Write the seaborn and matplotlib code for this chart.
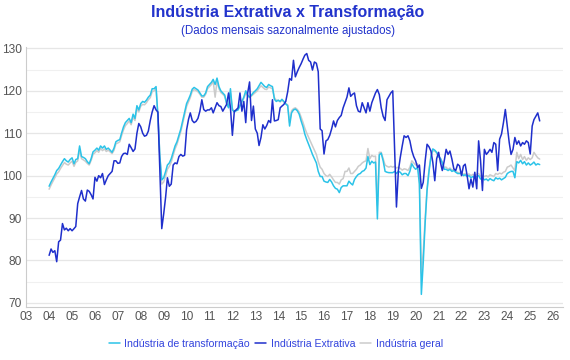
import pandas as pd
import numpy as np
import matplotlib
matplotlib.use('Agg')
import matplotlib.pyplot as plt
import matplotlib.dates as mdates
from matplotlib.ticker import MultipleLocator
import seaborn as sns

# Monthly seasonally adjusted indexes, Jan 2004 - Jun 2025
transformacao = [
    97.5, 98.5, 99.3, 100.2, 101.2, 101.7, 102.5, 103.3, 104.0, 103.5, 103.2, 103.8,  # 2004
    104.2, 102.8, 103.8, 104.0, 107.0, 104.5, 104.3, 104.0, 103.3, 102.8, 104.0, 105.6,  # 2005
    106.0, 106.5, 106.0, 107.0, 106.5, 107.0, 106.2, 106.5, 106.0, 105.5, 106.5, 108.0,  # 2006
    108.3, 108.5, 110.0, 111.5, 112.5, 113.0, 113.5, 112.5, 114.5, 113.5, 116.5, 115.5,  # 2007
    117.0, 117.5, 117.3, 117.8, 118.5, 119.0, 120.5, 120.5, 121.0, 114.0, 104.5, 99.0,  # 2008
    99.5, 101.0, 102.5, 103.0, 104.0, 105.5, 107.0, 108.0, 109.5, 111.0, 113.0, 115.0,  # 2009
    117.0, 118.0, 119.0, 120.4, 120.8, 120.5, 120.2, 119.5, 118.8, 118.8, 119.5, 121.0,  # 2010
    121.5, 122.0, 122.7, 121.5, 123.0, 121.0, 120.0, 119.5, 119.0, 117.0, 116.0, 120.5,  # 2011
    115.5, 115.0, 115.3, 115.5, 116.5, 117.5, 118.5, 120.0, 119.0, 118.5, 119.0, 119.6,  # 2012
    120.0, 120.5, 121.2, 122.0, 121.5, 121.0, 120.8, 121.5, 121.2, 121.0, 118.0, 117.5,  # 2013
    117.8, 117.5, 118.0, 117.5, 116.9, 116.5, 111.7, 114.8, 115.5, 115.7, 115.3, 114.5,  # 2014
    112.9, 111.5, 109.8, 108.5, 107.4, 106.2, 105.0, 104.0, 103.0, 101.0, 99.8, 99.8,  # 2015
    98.7, 98.5, 98.4, 99.1, 98.5, 97.6, 97.0, 96.8, 96.0, 97.2, 97.6, 97.6,  # 2016
    97.6, 98.7, 98.2, 97.8, 99.1, 99.8, 100.3, 100.5, 101.0, 101.2, 101.8, 104.5,  # 2017
    102.6, 103.4, 103.0, 103.2, 89.8, 104.9, 105.3, 103.5, 101.0, 100.8, 100.7, 100.7,  # 2018
    100.7, 101.0, 100.5, 101.0, 100.8, 100.2, 100.5, 100.5, 100.0, 101.0, 102.8, 102.0,  # 2019
    101.5, 101.9, 98.0, 72.0, 79.5, 89.0, 96.5, 101.0, 104.5, 106.3, 106.0, 105.5,  # 2020
    104.5, 104.0, 103.0, 101.5, 101.5, 101.2, 101.5, 101.0, 101.2, 100.8, 100.5, 100.5,  # 2021
    100.5, 100.0, 100.2, 99.8, 100.0, 99.5, 99.8, 99.5, 99.8, 100.0, 99.2, 99.5,  # 2022
    99.0, 99.2, 98.8, 99.3, 99.0, 98.8, 99.5, 99.2, 99.4, 99.0, 99.3, 99.6,  # 2023
    100.5, 100.8, 101.0, 101.0, 99.5, 103.3, 103.0, 103.6, 102.8, 103.3, 102.5, 103.0,  # 2024
    102.5, 102.8, 103.2, 102.5, 102.8, 102.6,  # 2025
]

extrativa = [
    81.2, 82.7, 81.9, 82.3, 79.7, 84.4, 84.8, 88.7, 87.2, 87.6, 87.0, 87.5,
    87.0, 87.5, 88.0, 93.4, 95.0, 96.5, 94.5, 94.0, 96.6, 96.3, 95.5, 94.5,
    99.6, 98.7, 100.0, 99.5, 100.5, 97.9, 99.0, 100.0, 100.5, 101.0, 103.5, 103.5,
    102.9, 103.0, 104.5, 105.2, 105.3, 105.0, 107.4, 106.6, 105.7, 106.3, 110.0, 112.3,
    111.5, 110.0, 109.3, 109.5, 110.5, 113.0, 115.0, 116.5, 115.5, 115.0, 101.0, 87.5,
    91.0, 95.0, 99.5, 97.5, 98.0, 102.5, 103.0, 102.8, 104.5, 105.0, 104.6, 104.8,
    110.8, 113.3, 114.8, 113.0, 112.5, 112.8, 113.5, 115.2, 117.9, 115.6, 115.2, 115.5,
    115.5, 116.0, 114.8, 116.0, 117.2, 116.5, 116.3, 115.2, 116.0, 116.8, 119.5, 116.0,
    109.5, 115.2, 115.5, 116.0, 119.5, 115.2, 117.5, 112.5, 119.5, 122.1, 113.0, 116.4,
    111.0, 110.0, 107.1, 109.0, 112.0, 111.0, 111.8, 113.0, 112.5, 117.9, 112.9, 113.0,
    113.2, 116.0, 116.4, 116.8, 117.5, 119.8, 122.9, 122.5, 127.2, 123.3, 124.5, 125.5,
    126.4, 127.5, 128.4, 128.8, 127.2, 126.8, 124.9, 126.8, 126.5, 124.5, 111.0, 110.6,
    105.1, 108.2, 108.5, 109.5, 111.0, 112.9, 111.5, 113.0, 113.7, 114.2, 116.0, 117.2,
    118.5, 120.7, 118.7, 119.2, 119.5, 116.5, 115.2, 115.0, 117.2, 116.0, 114.8, 117.2,
    115.2, 117.2, 118.3, 119.5, 120.3, 119.1, 116.0, 114.0, 113.0, 117.9, 118.7, 119.5,
    120.0, 105.9, 92.6, 101.2, 104.3, 107.0, 109.4, 109.0, 109.4, 108.2, 105.9, 104.5,
    103.5, 101.9, 102.5, 97.0, 98.4, 103.5, 107.4, 106.8, 105.8, 103.1, 98.8, 104.0,
    105.5, 103.0, 101.2, 103.5, 106.2, 105.0, 105.8, 103.9, 101.6, 101.2, 102.7, 102.3,
    100.0, 102.3, 102.7, 100.0, 96.9, 99.2, 97.3, 100.8, 96.9, 108.2, 103.5, 96.5,
    106.2, 105.0, 105.5, 106.2, 105.5, 107.8, 107.4, 101.2, 108.6, 109.8, 112.5, 115.6,
    111.7, 107.8, 105.0, 106.2, 109.0, 107.4, 108.2, 107.0, 107.8, 107.4, 108.2, 107.8,
    105.1, 111.7, 113.2, 114.0, 114.8, 112.9,
]

geral = [
    96.8, 97.8, 98.6, 99.5, 100.4, 100.9, 101.7, 102.4, 103.1, 102.7, 102.5, 103.0,
    103.4, 102.2, 103.1, 103.5, 106.0, 104.0, 103.7, 103.4, 102.9, 102.5, 103.6, 105.0,
    105.4, 105.9, 105.5, 106.4, 105.9, 106.3, 105.7, 106.0, 105.6, 105.2, 106.0, 107.5,
    107.7, 108.0, 109.4, 110.8, 111.8, 112.3, 112.9, 112.0, 113.8, 113.0, 115.8, 115.0,
    116.4, 116.8, 116.7, 117.2, 117.9, 118.4, 119.8, 120.0, 120.5, 114.0, 104.5, 98.0,
    98.5, 100.0, 101.5, 102.2, 103.2, 104.8, 106.3, 107.4, 108.9, 110.4, 112.4, 114.3,
    116.3, 117.4, 118.4, 119.9, 120.3, 120.1, 119.8, 119.2, 118.5, 118.5, 119.2, 120.5,
    121.0, 121.5, 122.2, 118.5, 122.3, 120.5, 119.6, 119.2, 118.7, 117.0, 116.2, 119.5,
    115.8, 115.2, 115.5, 115.8, 116.6, 117.4, 118.2, 119.4, 118.8, 118.4, 118.8, 119.2,
    119.6, 120.0, 120.6, 121.2, 120.8, 120.4, 120.3, 120.9, 120.7, 120.5, 118.4, 117.8,
    117.7, 117.4, 117.8, 117.4, 117.0, 116.7, 112.5, 115.3, 115.8, 116.0, 115.6, 115.0,
    113.8, 112.5, 111.2, 110.0, 109.0, 108.0, 107.0, 106.0, 105.0, 103.3, 102.0, 101.5,
    100.5, 100.0, 99.8, 100.3, 99.7, 99.0, 98.4, 98.4, 98.0, 99.0, 99.3, 101.0,
    101.0, 101.8, 100.5, 100.5, 101.0, 101.5, 102.2, 102.5, 103.0, 103.3, 103.5, 106.4,
    104.0, 104.8, 104.5, 104.6, 93.0, 105.5, 105.5, 104.0, 102.5, 102.2, 102.0, 102.2,
    102.0, 102.2, 101.8, 102.0, 101.7, 101.3, 101.6, 101.5, 101.2, 102.0, 103.5, 103.0,
    102.5, 102.8, 99.0, 77.0, 82.0, 90.0, 97.0, 101.5, 104.5, 105.8, 105.8, 105.3,
    104.5, 104.0, 103.2, 102.0, 102.0, 101.5, 101.8, 101.3, 101.5, 101.0, 100.8, 100.6,
    100.7, 100.3, 100.5, 100.2, 100.4, 100.0, 100.3, 100.0, 100.3, 100.5, 99.8, 100.0,
    99.8, 100.0, 99.7, 100.2, 100.0, 99.8, 100.5, 100.3, 100.6, 100.4, 100.8, 101.0,
    102.0, 102.2, 102.5, 101.8, 101.2, 105.5, 104.0, 105.0, 103.8, 104.5, 103.6, 104.2,
    103.8, 104.2, 105.5, 104.8, 104.2, 103.9,
]

series_names = ['Indústria de transformação', 'Indústria Extrativa', 'Indústria geral']
series_colors = ['#2bc3e8', '#1f2fcc', '#cbcbcb']

dates = pd.date_range('2004-01-01', periods=len(extrativa), freq='MS')
df = pd.concat([
    pd.DataFrame({'data': dates, 'valor': transformacao, 'serie': series_names[0]}),
    pd.DataFrame({'data': dates, 'valor': extrativa, 'serie': series_names[1]}),
    pd.DataFrame({'data': dates, 'valor': geral, 'serie': series_names[2]}),
])

sns.set_style('white')
plt.rcParams['font.family'] = ['Liberation Sans', 'DejaVu Sans']

fig = plt.figure(figsize=(5.7, 3.6), dpi=100)
ax = fig.add_axes([0.046, 0.147, 0.942, 0.722])

# grey drawn first so the two blues sit on top
for name, color, z in [(series_names[2], series_colors[2], 2),
                       (series_names[0], series_colors[0], 3),
                       (series_names[1], series_colors[1], 4)]:
    sns.lineplot(data=df[df['serie'] == name], x='data', y='valor', color=color,
                 linewidth=1.1, ax=ax, zorder=z, label=name)

ax.set_ylim(69, 130.3)
ax.set_xlim(pd.Timestamp('2003-01-01'), pd.Timestamp('2026-06-10'))
ax.yaxis.set_major_locator(MultipleLocator(10))
ax.yaxis.set_minor_locator(MultipleLocator(5))
ax.xaxis.set_major_locator(mdates.YearLocator())
ax.xaxis.set_major_formatter(mdates.DateFormatter('%y'))

ax.grid(axis='y', which='major', color='#e6e6e6', linewidth=0.9)
ax.grid(axis='y', which='minor', color='#f0f0f0', linewidth=0.8)
ax.set_axisbelow(True)
for s in ['top', 'right']:
    ax.spines[s].set_visible(False)
for s in ['left', 'bottom']:
    ax.spines[s].set_color('#cccccc')
    ax.spines[s].set_linewidth(0.8)
ax.tick_params(axis='both', which='both', length=0, labelsize=8.6, labelcolor='#555555', pad=3)
ax.set_xlabel('')
ax.set_ylabel('')

handles, labels = ax.get_legend_handles_labels()
order = [labels.index(n) for n in series_names]
ax.legend([handles[i] for i in order], [labels[i] for i in order],
          loc='upper center', bbox_to_anchor=(0.465, -0.085), ncol=3, frameon=False,
          fontsize=7.6, handlelength=1.0, handletextpad=0.45, columnspacing=0.5,
          labelcolor='#3344dd')

fig.text(0.505, 0.965, 'Indústria Extrativa x Transformação', ha='center', va='center',
         fontsize=11.5, fontweight='bold', color='#2233cc')
fig.text(0.505, 0.915, '(Dados mensais sazonalmente ajustados)', ha='center', va='center',
         fontsize=8.3, color='#2233cc')

fig.savefig('out.png', dpi=100)
